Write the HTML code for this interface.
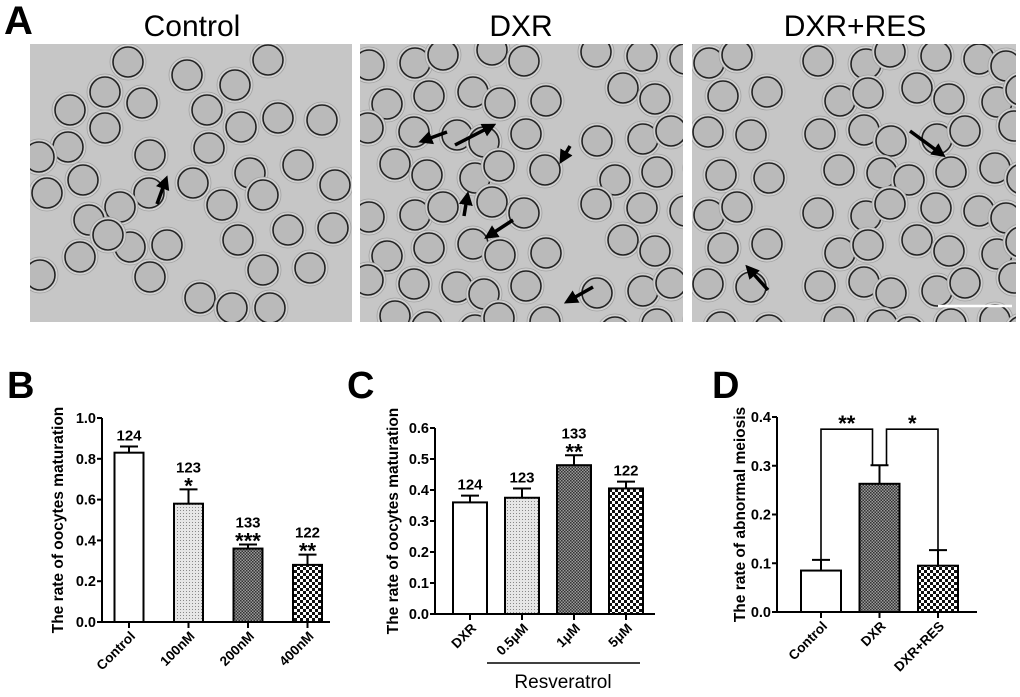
<!DOCTYPE html>
<html><head><meta charset="utf-8"><style>
html,body{margin:0;padding:0;background:#fff;}
body{width:1020px;height:692px;overflow:hidden;font-family:"Liberation Sans",Arial,sans-serif;}
svg text{font-family:"Liberation Sans",Arial,sans-serif;}
</style></head><body>
<svg id="fig" width="1020" height="692" viewBox="0 0 1020 692" xmlns="http://www.w3.org/2000/svg">
<defs>
<pattern id="pLight" width="3" height="3" patternUnits="userSpaceOnUse"><rect width="3" height="3" fill="#e6e6e6"/><rect width="1" height="1" fill="#888"/></pattern>
<pattern id="pDark" width="3" height="3" patternUnits="userSpaceOnUse"><rect width="3" height="3" fill="#9a9a9a"/><rect width="1.5" height="1.5" fill="#333"/><rect x="1.5" y="1.5" width="1.5" height="1.5" fill="#333"/></pattern>
<pattern id="pCheck" width="6" height="6" patternUnits="userSpaceOnUse"><rect width="6" height="6" fill="#fff"/><rect width="3" height="3" fill="#111"/><rect x="3" y="3" width="3" height="3" fill="#111"/></pattern>
<marker id="ah" markerWidth="4" markerHeight="4" refX="2" refY="2" orient="auto"><path d="M0,0 L4,2 L0,4 z" fill="#000"/></marker>
</defs>
<text x="4" y="34" font-size="40" font-weight="bold">A</text>
<text x="192" y="36" font-size="30" text-anchor="middle">Control</text>
<text x="521" y="36" font-size="30" text-anchor="middle">DXR</text>
<text x="855" y="36" font-size="30" text-anchor="middle">DXR+RES</text>
<g id="micro"></g>
<g id="charts"></g>
</svg>
<script>
const NS='http://www.w3.org/2000/svg';
function mk(parent,tag,attrs,txt){const e=document.createElementNS(NS,tag);for(const k in attrs)e.setAttribute(k,attrs[k]);if(txt!==undefined)e.textContent=txt;parent.appendChild(e);return e;}
const micro=document.getElementById('micro');
const panels=[[30,44,322,278,'control-micrograph'],[360,44,323,278,'dxr-micrograph'],[692,44,324,278,'dxr-res-micrograph']];
const ctrlCells=[[128,62],[187,75],[235,85],[268,60],[105,92],[70,110],[142,103],[207,110],[241,127],[278,118],[322,120],[105,128],[68,147],[150,155],[209,148],[298,165],[250,173],[83,180],[193,183],[335,185],[47,193],[149,193],[222,205],[263,195],[39,157],[120,207],[89,220],[130,247],[80,257],[167,245],[238,240],[288,230],[333,228],[150,277],[263,270],[310,268],[200,298],[232,308],[270,308],[40,275],[108,235]];
const jit=[[0,0],[6,-4],[-5,7],[3,5],[-7,-3],[4,-8],[-2,3],[8,6],[-6,-6],[2,-2],[7,1],[-4,8]];
panels.forEach((p,pi)=>{
  const g=mk(micro,'g',{});
  
  
  mk(g,'rect',{x:p[0],y:p[1],width:p[2],height:p[3],fill:'#c6c6c6'});
  const cp=mk(g,'clipPath',{id:'cp'+pi});mk(cp,'rect',{x:p[0],y:p[1],width:p[2],height:p[3]});
  const cg=mk(g,'g',{'clip-path':'url(#cp'+pi+')'});
  let cells=[];
  if(pi===0){cells=ctrlCells.map(c=>[c[0],c[1]]);}
  else{let k=0;for(let r=0;r<8;r++)for(let c=0;c<9;c++){k++;if((k*7+pi*3)%9===0)continue;const j=jit[(k+pi)%jit.length];cells.push([p[0]+14+c*38+(r%2)*17+j[0], p[1]+14+r*38+j[1]]);}}
  cells.forEach(c=>{
    mk(cg,'circle',{cx:c[0],cy:c[1],r:18,fill:'#d0d0d0',stroke:'#a0a0a0','stroke-width':0.8});
    mk(cg,'circle',{cx:c[0],cy:c[1],r:15,fill:'#bababa',stroke:'#222','stroke-width':1.6});
  });
});
const arrows=[[157,204,165,182],[447,132,425,140],[455,145,490,127],[570,146,563,158],[464,216,467,198],[513,220,490,235],[593,287,570,300],[910,131,940,153],[768,290,750,270]];
arrows.forEach(a=>{const l=mk(micro,'line',{x1:a[0],y1:a[1],x2:a[2],y2:a[3],stroke:'#000','stroke-width':3.5,'marker-end':'url(#ah)'});

});
const sb=mk(micro,'line',{x1:938,y1:306,x2:1012,y2:306,stroke:'#fff','stroke-width':2.5});



// ---- Chart data ----
const bCats=['Control','100nM','200nM','400nM'];
const bVals=[0.83,0.58,0.36,0.28];
const bErr=[0.03,0.07,0.02,0.05];
const bN=['124','123','133','122'];
const bSig=['','*','***','**'];
const bTicks=[0,0.2,0.4,0.6,0.8,1.0];
const cCats=['DXR','0.5μM','1μM','5μM'];
const cVals=[0.36,0.375,0.48,0.405];
const cErr=[0.022,0.03,0.032,0.022];
const cN=['124','123','133','122'];
const cSig=['','','**',''];
const cTicks=[0,0.1,0.2,0.3,0.4,0.5,0.6];
const dCats=['Control','DXR','DXR+RES'];
const dVals=[0.085,0.263,0.095];
const dErr=[0.022,0.038,0.032];
const dTicks=[0,0.1,0.2,0.3,0.4];
const fills=['#fff','url(#pLight)','url(#pDark)','url(#pCheck)'];

const ch=document.getElementById('charts');
function chart(o){
  const g=mk(ch,'g',{});
  
  
  const ymax=o.ticks[o.ticks.length-1];
  const Y=v=>o.y0-(v/ymax)*(o.y0-o.yTop);
  const X=i=>o.x0+o.first+i*o.step;
  const lbl=mk(g,'text',{x:o.panelX,y:o.panelY,'font-size':38,'font-weight':'bold'},o.letter);
  
  
  const yl=mk(g,'text',{transform:`translate(${o.ytx},${(o.y0+o.yTop)/2}) rotate(-90)`,'font-size':15.5,'font-weight':'bold','text-anchor':'middle'},o.ytitle);
  
  
  o.vals.forEach((v,i)=>{
    const cx=X(i),w=o.bw;
    const ey=Y(v+o.err[i]);
    mk(g,'line',{x1:cx,y1:Y(v),x2:cx,y2:ey,stroke:'#000','stroke-width':2});
    mk(g,'line',{x1:cx-9,y1:ey,x2:cx+9,y2:ey,stroke:'#000','stroke-width':2});
    const b=mk(g,'rect',{x:cx-w/2,y:Y(v),width:w,height:o.y0-Y(v),fill:o.fills[i],stroke:'#000','stroke-width':2});
    
    
    if(o.n){const t=mk(g,'text',{x:cx,y:ey-(o.sig[i]?17:6),'font-size':15,'font-weight':'bold','text-anchor':'middle'},o.n[i]);
      
      
      if(o.sig[i]){const s=mk(g,'text',{x:cx,y:ey+4,'font-size':22,'font-weight':'bold','text-anchor':'middle'},o.sig[i]);
        
        }}
    mk(g,'line',{x1:cx,y1:o.y0,x2:cx,y2:o.y0+6,stroke:'#000','stroke-width':2});
    const xt=mk(g,'text',{transform:`translate(${cx+7},${o.y0+15}) rotate(-45)`,'font-size':13.5,'font-weight':'bold','text-anchor':'end'},o.cats[i]);
    
    
  });
  mk(g,'line',{x1:o.x0,y1:o.yTop,x2:o.x0,y2:o.y0+1,stroke:'#000','stroke-width':2});
  mk(g,'line',{x1:o.x0,y1:o.y0,x2:o.xEnd,y2:o.y0,stroke:'#000','stroke-width':2});
  o.ticks.forEach(t=>{mk(g,'line',{x1:o.x0-5,y1:Y(t),x2:o.x0,y2:Y(t),stroke:'#000','stroke-width':2});
    const tl=mk(g,'text',{x:o.x0-6,y:Y(t)+5,'font-size':14.5,'font-weight':'bold','text-anchor':'end'},t.toFixed(1));
    
    });
  return {g,X,Y};
}
chart({name:'chart-b',letter:'B',panelX:7,panelY:398,ytitle:'The rate of oocytes maturation',ytx:63,x0:102,y0:622,yTop:418,xEnd:330,first:27,step:59.5,bw:29,cats:bCats,vals:bVals,err:bErr,n:bN,sig:bSig,ticks:bTicks,fills:fills});
chart({name:'chart-c',letter:'C',panelX:347,panelY:398,ytitle:'The rate of oocytes maturation',ytx:398,x0:435,y0:614,yTop:428,xEnd:655,first:35,step:52,bw:34,cats:cCats,vals:cVals,err:cErr,n:cN,sig:cSig,ticks:cTicks,fills:fills});
const dd=chart({name:'chart-d',letter:'D',panelX:712,panelY:398,ytitle:'The rate  of  abnormal meiosis',ytx:745,x0:777,y0:612,yTop:417,xEnd:977,first:44,step:58.5,bw:40,cats:dCats,vals:dVals,err:dErr,ticks:dTicks,fills:[fills[0],fills[2],fills[3]]});
const bt=dd.Y(0.375);
[[0,1,'**'],[1,2,'*']].forEach((p,k)=>{
  const a=dd.X(p[0])+(k===1?7:0),b=dd.X(p[1])-(k===0?7:0);
  const pl=mk(dd.g,'polyline',{points:`${a},${dd.Y(dVals[p[0]]+dErr[p[0]])} ${a},${bt} ${b},${bt} ${b},${dd.Y(dVals[p[1]]+dErr[p[1]])}`,fill:'none',stroke:'#000','stroke-width':1.6});
  
  
  const st=mk(dd.g,'text',{x:(a+b)/2,y:bt+2,'font-size':22,'font-weight':'bold','text-anchor':'middle'},p[2]);
  
  
});
const rl=mk(ch,'line',{x1:487,y1:663,x2:640,y2:663,stroke:'#000','stroke-width':1.5});


const rt=mk(ch,'text',{x:563,y:688,'font-size':19,'text-anchor':'middle'},'Resveratrol');


</script>
</body></html>
